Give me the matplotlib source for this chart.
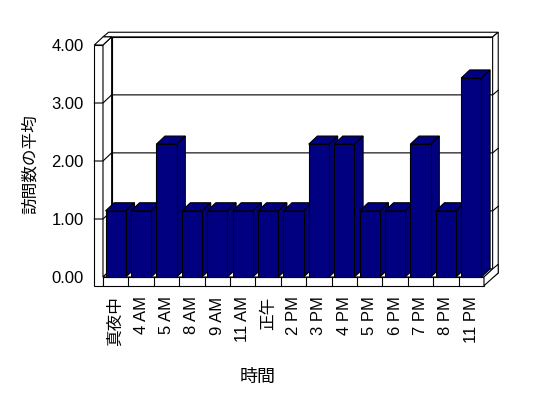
import matplotlib.pyplot as plt
from matplotlib.patches import Polygon

plt.rcParams['font.family'] = ['Liberation Sans', 'Noto Sans CJK JP']

# data
hours = ['真夜中', '4 AM', '5 AM', '8 AM', '9 AM', '11 AM', '正午', '2 PM',
         '3 PM', '4 PM', '5 PM', '6 PM', '7 PM', '8 PM', '11 PM']
avg_visits = [1.14, 1.14, 2.29, 1.14, 1.14, 1.14, 1.14, 1.14,
              2.29, 2.29, 1.14, 1.14, 2.29, 1.14, 3.43]
y_ticks = [0, 1, 2, 3, 4]

navy = '#000080'
n = len(hours)
ymax = y_ticks[-1]

fig = plt.figure(figsize=(5.48, 3.98), dpi=100)
ax = fig.add_axes([103 / 548, 121 / 398, 381 / 548, 232 / 398])
ax.set_xlim(0, n)
ax.set_ylim(0, ymax)
ax.patch.set_visible(False)
for s in ax.spines.values():
    s.set_visible(False)

# fake 3d: depth offset, wall/floor thickness (data units)
dx, dy = 0.34, 0.14
ex, ey = 0.22, 0.08
fl = 0.15
lw = 0.8


def poly(pts, fc='white', z=1):
    ax.add_patch(Polygon(pts, closed=True, facecolor=fc, edgecolor='black',
                         linewidth=lw, zorder=z, clip_on=False,
                         joinstyle='miter'))


def line(xs, ys, z=2):
    ax.plot(xs, ys, color='black', linewidth=lw, zorder=z, clip_on=False)


# back wall (with its thickness) and left wall
poly([(dx, dy), (n + dx, dy), (n + dx, ymax + dy), (dx, ymax + dy)])
poly([(0, ymax + dy), (n + dx, ymax + dy), (n + dx + ex, ymax + dy + ey),
      (ex, ymax + dy + ey)])
poly([(n + dx, dy - fl), (n + dx + ex, dy + ey - fl),
      (n + dx + ex, ymax + dy + ey), (n + dx, ymax + dy)])
poly([(-dx, -fl), (0, -fl), (0, ymax), (-dx, ymax)])
poly([(0, 0), (dx, dy), (dx, ymax + dy), (0, ymax)])
poly([(-dx, ymax), (0, ymax), (dx, ymax + dy), (0, ymax + dy)])

# gridlines
for v in y_ticks[1:-1]:
    line([-dx, 0, dx, n + dx, n + dx + ex],
         [v, v, v + dy, v + dy, v + dy + ey])

# floor
poly([(0, 0), (n, 0), (n + dx, dy), (dx, dy)])
poly([(0, -fl), (n, -fl), (n, 0), (0, 0)])
poly([(n, -fl), (n + dx + ex, dy + ey - fl), (n + dx + ex, dy + ey),
      (n + dx, dy), (n, 0)])
for i in range(1, n):
    line([i, i], [-fl, 0])

# bars
w = 0.8
for i, v in enumerate(avg_visits):
    x0 = i + (1 - w) / 2
    x1 = x0 + w
    z = 3 + i * 0.01
    poly([(x0, v), (x1, v), (x1 + dx, v + dy), (x0 + dx, v + dy)], navy, z)
    poly([(x1, 0), (x1 + dx, dy), (x1 + dx, v + dy), (x1, v)], navy, z)
    poly([(x0, 0), (x1, 0), (x1, v), (x0, v)], navy, z)

# ticks
ax.set_xticks([i + 0.5 for i in range(n)])
ax.set_xticklabels(hours, rotation=90, fontsize=12)
ax.set_yticks(y_ticks)
ax.set_yticklabels([f'{v:.2f}' for v in y_ticks], fontsize=12)
ax.tick_params(axis='x', length=0, pad=14)
ax.tick_params(axis='y', length=0, pad=14)

fig.text(258 / 548, 1 - 377 / 398, '時間', ha='center', va='center',
         fontsize=13)
fig.text(30 / 548, 1 - 164 / 398, '訪問数の平均', ha='center', va='center',
         rotation=90, fontsize=12)

fig.savefig('out.png', dpi=100)
